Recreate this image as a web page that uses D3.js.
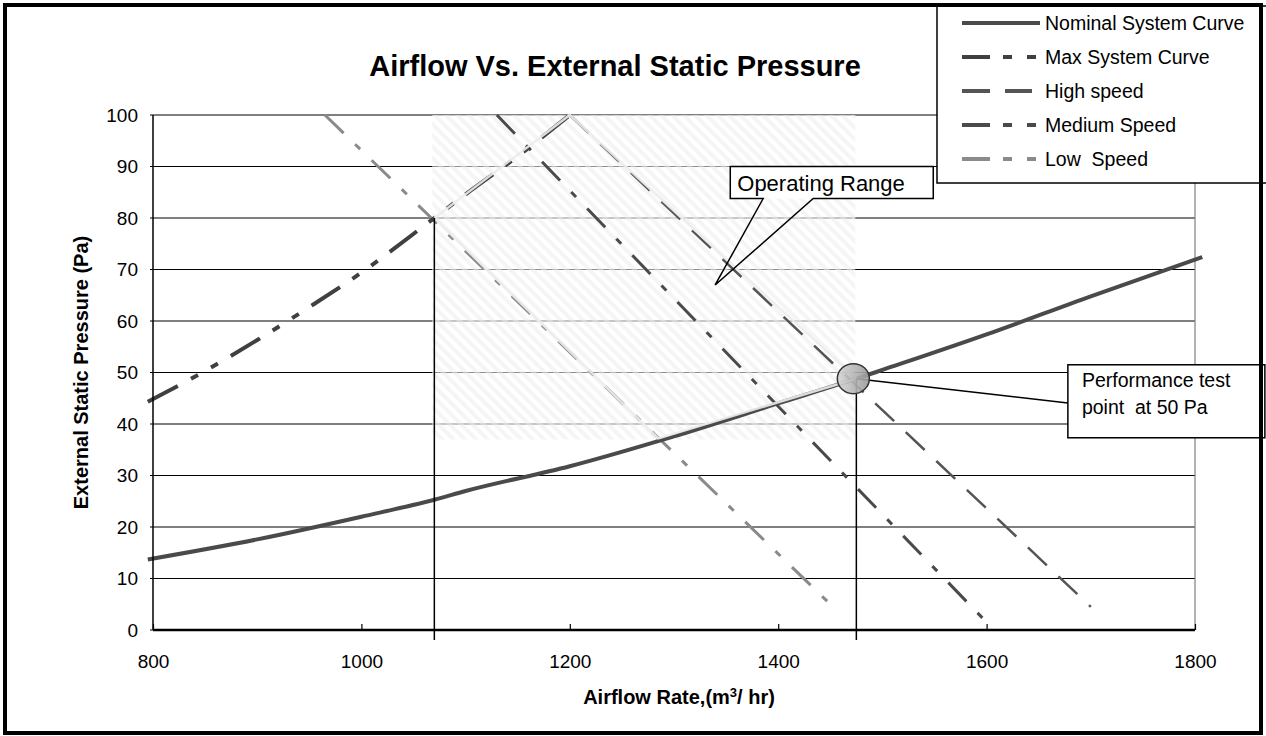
<!DOCTYPE html>
<html>
<head>
<meta charset="utf-8">
<script src="https://cdn.jsdelivr.net/npm/d3@7"></script>
<style>
  body { margin: 0; background: #fff; }
  svg text { font-family: Arial, "Liberation Sans", sans-serif; }
</style>
</head>
<body>
<script>
// ---- data ----
var xTicks = [800, 1000, 1200, 1400, 1600, 1800];
var yTicks = [0, 10, 20, 30, 40, 50, 60, 70, 80, 90, 100];

var nominalQ = [795, 900, 1000, 1070, 1100, 1200, 1300, 1400, 1475, 1500, 1600, 1700, 1807];
var nominalP = [13.7, 17.6, 22.0, 25.3, 27.0, 31.8, 37.6, 44.0, 48.8, 50.5, 57.4, 64.8, 72.4];

var maxSysQ = [795, 850, 900, 950, 1000, 1070, 1100, 1150, 1200];
var maxSysP = [44.3, 50.3, 56.3, 62.7, 69.4, 80.0, 84.6, 92.0, 100];

var highQ = [1200, 1700];
var highP = [100, 4.5];
var mediumQ = [1130, 1600];
var mediumP = [100, 1.5];
var lowQ = [965, 1450];
var lowP = [100, 5];

// operating range outline and its bounding box
var opRangeQ = [1070, 1200, 1475, 1285, 1070];
var opRangeP = [80, 100, 48.8, 37.2, 80];
var opBoxQ = [1068, 1474];
var opBoxP = [37, 100];

// vertical markers at the low/high operating points
var markerQ = [1070, 1475];
var markerP = [80, 48.8];
var testPoint = [1475, 48.8];

var seriesNames = ["Nominal System Curve", "Max System Curve", "High speed", "Medium Speed", "Low  Speed"];

var width = 1266, height = 736;
var svg = d3.select("body").append("svg")
  .attr("width", width)
  .attr("height", height);

var x = d3.scaleLinear().domain([800, 1800]).range([153, 1195]);
var y = d3.scaleLinear().domain([0, 100]).range([630, 115]);

function zip(q, p) { return q.map(function(d, i) { return [d, p[i]]; }); }

var series = [
  { name: seriesNames[0], pts: zip(nominalQ, nominalP), color: "#4a4a4a", w: 4, dash: null, legendDash: null },
  { name: seriesNames[1], pts: zip(maxSysQ, maxSysP), color: "#404040", w: 4, dash: "34,15,8,15,8,15", legendDash: "28,13,9,15,9" },
  { name: seriesNames[2], pts: zip(highQ, highP), color: "#555", w: 2.5, dash: "26,16", legendDash: "28,15,27" },
  { name: seriesNames[3], pts: zip(mediumQ, mediumP), color: "#4a4a4a", w: 3, dash: "26,16,7,16", legendDash: "28,13,9,15,9" },
  { name: seriesNames[4], pts: zip(lowQ, lowP), color: "#8a8a8a", w: 3, dash: "26,16,7,16", legendDash: "28,13,9,15,9" }
];

// hatch pattern for the operating range
var defs = svg.append("defs");
var pat = defs.append("pattern")
  .attr("id", "hatch")
  .attr("patternUnits", "userSpaceOnUse")
  .attr("width", 8).attr("height", 8)
  .attr("patternTransform", "rotate(-45)");
pat.append("rect").attr("width", 8).attr("height", 8).attr("fill", "#fff").attr("fill-opacity", 0.55);
pat.append("rect").attr("width", 4).attr("height", 8).attr("fill", "#ececec").attr("fill-opacity", 0.5);

var grad = defs.append("linearGradient").attr("id", "dotGrad")
  .attr("x1", "0%").attr("x2", "100%").attr("y1", "0%").attr("y2", "0%");
grad.append("stop").attr("offset", "0%").attr("stop-color", "#d4d4d4");
grad.append("stop").attr("offset", "100%").attr("stop-color", "#9a9a9a");

// gridlines
svg.append("g").selectAll("line")
  .data(yTicks)
  .enter().append("line")
  .attr("x1", x(800) - 3).attr("x2", x(1800))
  .attr("y1", function(d) { return y(d); })
  .attr("y2", function(d) { return y(d); })
  .attr("stroke", "#000")
  .attr("stroke-width", 1.2);

// right edge of plot area
svg.append("line")
  .attr("x1", x(1800)).attr("x2", x(1800))
  .attr("y1", y(100)).attr("y2", y(0))
  .attr("stroke", "#808080").attr("stroke-width", 1.2);

// operating range shading
svg.append("rect")
  .attr("x", x(opBoxQ[0]))
  .attr("y", y(opBoxP[1]))
  .attr("width", x(opBoxQ[1]) - x(opBoxQ[0]))
  .attr("height", y(opBoxP[0]) - y(opBoxP[1]))
  .attr("fill", "url(#hatch)");

// curves
var line = d3.line()
  .x(function(d) { return x(d[0]); })
  .y(function(d) { return y(d[1]); })
  .curve(d3.curveMonotoneX);

// draw fan curves first, system curves on top
[4, 3, 2, 0, 1].forEach(function(i) {
  var s = series[i];
  svg.append("path")
    .attr("d", line(s.pts))
    .attr("fill", "none")
    .attr("stroke", s.color)
    .attr("stroke-width", s.w)
    .attr("stroke-dasharray", s.dash);
});

// outline of the operating region
svg.append("path")
  .attr("d", d3.line()
    .x(function(d) { return x(d[0]); })
    .y(function(d) { return y(d[1]); })(zip(opRangeQ, opRangeP)))
  .attr("fill", "none")
  .attr("stroke", "#ececec")
  .attr("stroke-width", 2.5)
  .attr("stroke-opacity", 0.9);

// vertical markers
svg.append("g").selectAll("line")
  .data(zip(markerQ, markerP))
  .enter().append("line")
  .attr("x1", function(d) { return x(d[0]); })
  .attr("x2", function(d) { return x(d[0]); })
  .attr("y1", function(d) { return y(d[1]); })
  .attr("y2", y(0) + 10)
  .attr("stroke", "#000")
  .attr("stroke-width", 1.5);

// axes lines
svg.append("line")
  .attr("x1", x(800)).attr("x2", x(800))
  .attr("y1", y(100)).attr("y2", y(0))
  .attr("stroke", "#000").attr("stroke-width", 1.5);
svg.append("line")
  .attr("x1", x(800)).attr("x2", x(1800))
  .attr("y1", y(0)).attr("y2", y(0))
  .attr("stroke", "#000").attr("stroke-width", 2.5);

var xAxis = svg.append("g")
  .attr("transform", "translate(0," + y(0) + ")")
  .call(d3.axisBottom(x).tickValues(xTicks).tickSizeInner(-6).tickSizeOuter(0).tickPadding(25).tickFormat(d3.format("d")));
xAxis.select(".domain").remove();
xAxis.selectAll("line").attr("stroke", "#000").attr("stroke-width", 1.2);
xAxis.selectAll("text").attr("font-size", "19px").attr("fill", "#000")
  .style("font-family", "Arial, 'Liberation Sans', sans-serif");

var yAxis = svg.append("g")
  .attr("transform", "translate(" + x(800) + ",0)")
  .call(d3.axisLeft(y).tickValues(yTicks).tickSize(0).tickPadding(15).tickFormat(d3.format("d")));
yAxis.select(".domain").remove();
yAxis.selectAll("text").attr("font-size", "19px").attr("fill", "#000")
  .style("font-family", "Arial, 'Liberation Sans', sans-serif");

// test point marker
svg.append("line")
  .attr("x1", x(testPoint[0])).attr("y1", y(testPoint[1]))
  .attr("x2", x(1678)).attr("y2", y(44.1))
  .attr("stroke", "#000").attr("stroke-width", 1.5);
svg.append("ellipse")
  .attr("cx", x(testPoint[0]) - 3)
  .attr("cy", y(testPoint[1]))
  .attr("rx", 16).attr("ry", 15)
  .attr("fill", "url(#dotGrad)")
  .attr("fill-opacity", 0.9)
  .attr("stroke", "#333")
  .attr("stroke-width", 1.5);

// "Operating Range" callout
var obx = x(1354), oby = y(90), obw = 203, obh = 32;
var tip = [x(1339.5), y(67)];
var wl = x(1385.6), wr = x(1433.6);
svg.append("rect")
  .attr("x", obx).attr("y", oby).attr("width", obw).attr("height", obh)
  .attr("fill", "#fff");
svg.append("path")
  .attr("d", "M" + obx + "," + oby + "H" + (obx + obw) + "V" + (oby + obh) + "H" + wr +
    "L" + tip[0] + "," + tip[1] + "L" + wl + "," + (oby + obh) + "H" + obx + "Z")
  .attr("fill", "none")
  .attr("stroke", "#000")
  .attr("stroke-width", 1.5);
svg.append("text")
  .attr("x", obx + 7).attr("y", oby + 24)
  .attr("font-size", "22px")
  .text("Operating Range");

// "Performance test point" callout
var pbx = x(1678), pby = y(51.5);
svg.append("rect")
  .attr("x", pbx).attr("y", pby).attr("width", 197).attr("height", 73)
  .attr("fill", "#fff").attr("stroke", "#000").attr("stroke-width", 1.5);
svg.append("text")
  .attr("x", pbx + 14).attr("y", pby + 22)
  .attr("font-size", "19.5px")
  .text("Performance test");
svg.append("text")
  .attr("x", pbx + 14).attr("y", pby + 49)
  .attr("font-size", "19.5px")
  .attr("xml:space", "preserve")
  .text("point  at 50 Pa");

// title and axis titles
svg.append("text")
  .attr("x", 615).attr("y", 76)
  .attr("text-anchor", "middle")
  .attr("font-size", "29px")
  .attr("font-weight", "bold")
  .text("Airflow Vs. External Static Pressure");

svg.append("text")
  .attr("transform", "translate(88," + ((y(0) + y(100)) / 2) + ") rotate(-90)")
  .attr("text-anchor", "middle")
  .attr("font-size", "20px")
  .attr("font-weight", "bold")
  .text("External Static Pressure (Pa)");

var xt = svg.append("text")
  .attr("x", (x(800) + x(1800)) / 2 + 5).attr("y", 704)
  .attr("text-anchor", "middle")
  .attr("font-size", "20px")
  .attr("font-weight", "bold")
  .attr("xml:space", "preserve");
xt.append("tspan").text("Airflow Rate,(m");
xt.append("tspan").attr("font-size", "13px").attr("dy", -7).text("3");
xt.append("tspan").attr("dy", 7).text("/ hr)");

// legend
var lg = svg.append("g");
lg.append("rect")
  .attr("x", 937).attr("y", 6).attr("width", 340).attr("height", 177)
  .attr("fill", "#fff").attr("stroke", "#000").attr("stroke-width", 1.5);
var rows = lg.selectAll(".row")
  .data(series)
  .enter().append("g")
  .attr("transform", function(d, i) { return "translate(0," + (23 + i * 34) + ")"; });
rows.append("line")
  .attr("x1", 962).attr("x2", 1040)
  .attr("stroke", function(d) { return d.color; })
  .attr("stroke-width", 4)
  .attr("stroke-dasharray", function(d) { return d.legendDash; });
rows.append("text")
  .attr("x", 1045)
  .attr("dy", "0.35em")
  .attr("font-size", "19.5px")
  .attr("xml:space", "preserve")
  .text(function(d) { return d.name; });

// outer frame
svg.append("rect")
  .attr("x", 5).attr("y", 5).attr("width", 1256).attr("height", 728)
  .attr("fill", "none")
  .attr("stroke", "#000")
  .attr("stroke-width", 4);
</script>
</body>
</html>
